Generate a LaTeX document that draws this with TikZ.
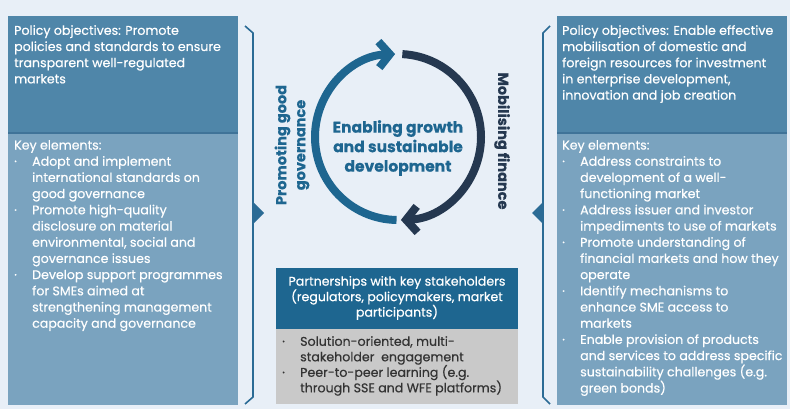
\documentclass[tikz,border=0pt]{standalone}
\usepackage{fontspec}
\setmainfont{Poppins}[FakeBold=0.5]
\usetikzlibrary{arrows.meta}

\definecolor{bgblue}{HTML}{E8EFF7}
\definecolor{topblue}{HTML}{4F86A9}
\definecolor{keyblue}{HTML}{7AA3BF}
\definecolor{edgeblue}{HTML}{3F7398}
\definecolor{ringblue}{HTML}{1E6690}
\definecolor{ringdark}{HTML}{253850}
\definecolor{partgrey}{HTML}{C9C9C9}
\definecolor{linkblue}{HTML}{2B6B95}

\newcommand{\itm}[1]{\makebox[18pt][l]{·}#1}
\newcommand{\cnt}[1]{\hspace*{18pt}#1}

\begin{document}
\begin{tikzpicture}[x=1pt, y=-1pt,
    txt/.style={anchor=north west, inner sep=0pt, align=left, text=white,
        font=\fontsize{12.6}{16.2}\selectfont},
    bracket/.style={draw=linkblue, line width=1.6pt},
    ringlab/.style={inner sep=0pt, align=center, font=\bfseries\fontsize{15.5}{19.5}\selectfont}]

    \fill[bgblue] (0,0) rectangle (790,409);

    % Left panel
    \fill[topblue] (8,16) rectangle (238,133);
    \fill[keyblue] (8,133) rectangle (238,405);
    \draw[edgeblue, line width=1.5pt] (8,133) -- (238,133);
    \node[txt] (lobj) at (14,25) {Policy objectives: Promote\\policies and standards to ensure\\transparent well-regulated\\markets};
    \node[txt] (lkey) at (14,140) {Key elements:\\
        \itm{Adopt and implement}\\\cnt{international standards on}\\\cnt{good governance}\\
        \itm{Promote high-quality}\\\cnt{disclosure on material}\\\cnt{environmental, social and}\\\cnt{governance issues}\\
        \itm{Develop support programmes}\\\cnt{for SMEs aimed at}\\\cnt{strengthening management}\\\cnt{capacity and governance}};

    % Right panel
    \fill[topblue] (557,16) rectangle (787,133);
    \fill[keyblue] (557,133) rectangle (787,405);
    \draw[edgeblue, line width=1.5pt] (557,133) -- (787,133);
    \node[txt] (robj) at (562,25) {Policy objectives: Enable effective\\mobilisation of domestic and\\foreign resources for investment\\in enterprise development,\\innovation and job creation};
    \node[txt] (rkey) at (562,140) {Key elements:\\
        \itm{Address constraints to}\\\cnt{development of a well-}\\\cnt{functioning market}\\
        \itm{Address issuer and investor}\\\cnt{impediments to use of markets}\\
        \itm{Promote understanding of}\\\cnt{financial markets and how they}\\\cnt{operate}\\
        \itm{Identify mechanisms to}\\\cnt{enhance SME access to}\\\cnt{markets}\\
        \itm{Enable provision of products}\\\cnt{and services to address specific}\\\cnt{sustainability challenges (e.g.}\\\cnt{green bonds)}};

    % Brackets
    \draw[bracket] (245,26) -- (253,33) -- (253,397) -- (245,404);
    \fill[linkblue] (253,202) -- (264,213) -- (253,224) -- cycle;
    \draw[bracket] (550,26) -- (543,33) -- (543,397) -- (550,404);
    \fill[linkblue] (543,202) -- (532,213) -- (543,224) -- cycle;

    % Cycle
    \coordinate (hub) at (398,137);
    \draw[ringblue, line width=8pt, -{Straight Barb[length=11pt, width=26pt]}]
        ([shift={(91:83)}]hub) arc[start angle=91, end angle=268, radius=83];
    \draw[ringdark, line width=8pt, -{Straight Barb[length=11pt, width=26pt]}]
        ([shift={(273:83)}]hub) arc[start angle=273, end angle=448, radius=83];
    \node[ringlab, text=ringblue, rotate=90, font=\bfseries\fontsize{14.5}{19}\selectfont] (govlab) at (292,145) {Promoting good\\governance};
    \node[ringlab, text=ringdark, rotate=-90, font=\bfseries\fontsize{14.5}{19}\selectfont] (finlab) at (502,141) {Mobilising finance};
    \node[ringlab, text=ringblue] (hubtxt) at (398,148) {Enabling growth\\and sustainable\\development};

    % Partnerships
    \fill[ringblue] (276,268) rectangle (518,329);
    \fill[partgrey] (276,329) rectangle (518,404);
    \node[inner sep=0pt, align=center, text=white, font=\fontsize{12.6}{15.5}\selectfont] (parthead) at (397,298) {Partnerships with key stakeholders\\(regulators, policymakers, market\\participants)};
    \node[txt, text=black!80, font=\fontsize{12.6}{15.5}\selectfont] (partlist) at (282,336) {\itm{Solution-oriented, multi-}\\\cnt{stakeholder\ \ engagement}\\\itm{Peer-to-peer learning (e.g.}\\\cnt{through SSE and WFE platforms)}};
\end{tikzpicture}
\end{document}
